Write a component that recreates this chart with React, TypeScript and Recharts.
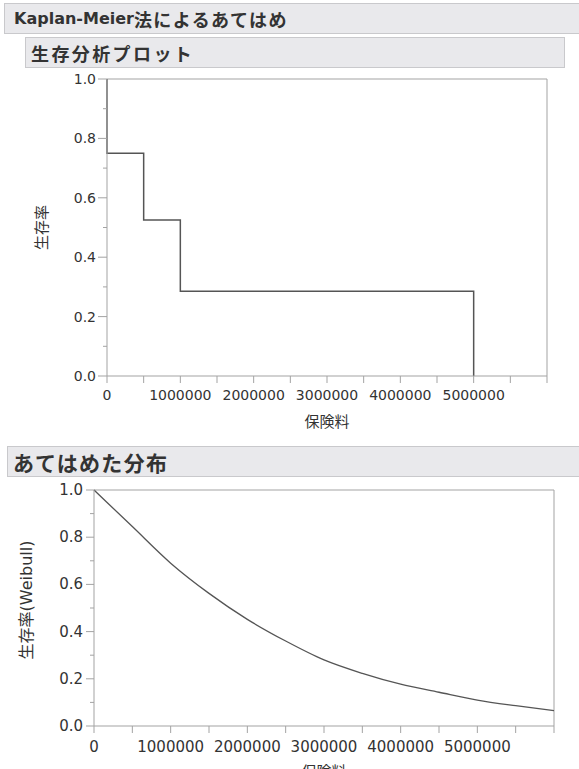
import { LineChart, Line, XAxis, YAxis, ReferenceLine, Label } from "recharts"

// Kaplan-Meier step estimate (premium -> survival); the double 0 gives the drop at t=0
const kmPremium = [0, 0, 500000, 1000000, 5000000]
const kmSurvival = [1.0, 0.75, 0.525, 0.285, 0]

// fitted Weibull survival curve
const weibullPremium = [
  0, 500000, 1000000, 1500000, 2000000, 2500000, 3000000,
  3500000, 4000000, 4500000, 5000000, 5500000, 6000000,
]
const weibullSurvival = [
  1.0, 0.845, 0.69, 0.562, 0.452, 0.36, 0.28,
  0.223, 0.177, 0.143, 0.11, 0.086, 0.065,
]

const premiumTicks = [
  0, 500000, 1000000, 1500000, 2000000, 2500000, 3000000,
  3500000, 4000000, 4500000, 5000000, 5500000, 6000000,
]
const premiumTickLabels = [
  "0", "", "1000000", "", "2000000", "", "3000000",
  "", "4000000", "", "5000000", "", "",
]
const survivalTicks = [0, 0.1, 0.2, 0.3, 0.4, 0.5, 0.6, 0.7, 0.8, 0.9, 1.0]
const survivalTickLabels = ["0.0", "", "0.2", "", "0.4", "", "0.6", "", "0.8", "", "1.0"]

const kmData = kmPremium.map((p, i) => ({ premium: p, survival: kmSurvival[i] }))
const weibullData = weibullPremium.map((p, i) => ({ premium: p, survival: weibullSurvival[i] }))

const FONT = "'DejaVu Sans', 'Noto Sans CJK JP', sans-serif"
const AXIS = "#a3a3a3"
const INK = "#333"
const CURVE = "#555"

const premiumLabel = (v: number) => premiumTickLabels[premiumTicks.indexOf(v)] ?? ""

function SurvivalTick(props: any) {
  const { x, y, payload, size, gap, fontSize } = props
  const i = survivalTicks.indexOf(payload.value)
  const text = survivalTickLabels[i] ?? ""
  const axisX = x + gap + size
  return (
    <g>
      <line x1={axisX - (text ? size : 4)} x2={axisX} y1={y} y2={y} stroke={AXIS} />
      {text && (
        <text x={x} y={y} textAnchor="end" dominantBaseline="central" fill={INK} fontSize={fontSize} fontFamily={FONT}>
          {text}
        </text>
      )}
    </g>
  )
}

const sideLabel = (text: string, cx: number, fontSize: number, shift = 0) => (props: any) => {
  const { x, y, height } = props.viewBox
  const px = x + cx
  const py = y + height / 2 + shift
  return (
    <text x={px} y={py} transform={`rotate(-90 ${px} ${py})`} textAnchor="middle" dominantBaseline="central" fill={INK} fontSize={fontSize} fontFamily={FONT}>
      {text}
    </text>
  )
}

const bottomLabel = (text: string, fontSize: number) => (props: any) => {
  const { x, y, width } = props.viewBox
  return (
    <text x={x + width / 2} y={y + 45.5} textAnchor="middle" dominantBaseline="central" fill={INK} fontSize={fontSize} fontFamily={FONT}>
      {text}
    </text>
  )
}

function Header({ left, top, width, pad, children }: any) {
  return (
    <div
      style={{
        position: "absolute",
        left,
        top,
        width,
        height: 31,
        boxSizing: "border-box",
        background: "#e9e9ec",
        border: "1px solid #c9c9cc",
        display: "flex",
        alignItems: "center",
        paddingLeft: pad,
        fontFamily: FONT,
        fontWeight: "bold",
        color: "#333",
        whiteSpace: "nowrap",
      }}
    >
      {children}
    </div>
  )
}

export default function App() {
  return (
    <div style={{ position: "absolute", left: 0, top: 0, width: 579, height: 769, overflow: "hidden", background: "#fff" }}>
      <div style={{ position: "absolute", left: 0, top: 0 }}>
        <LineChart width={579} height={430} data={kmData} margin={{ top: 79, right: 32, bottom: 0, left: 0 }}>
          <XAxis
            dataKey="premium"
            type="number"
            domain={[0, 6000000]}
            ticks={premiumTicks}
            interval={0}
            tickFormatter={premiumLabel}
            stroke={AXIS}
            tickSize={7}
            tickMargin={7}
            height={54}
            tick={{ fill: INK, fontSize: 14, fontFamily: FONT }}
          >
            <Label content={bottomLabel("保険料", 15)} />
          </XAxis>
          <YAxis
            type="number"
            domain={[0, 1]}
            ticks={survivalTicks}
            interval={0}
            stroke={AXIS}
            width={107}
            tickLine={false}
            tickSize={9}
            tickMargin={2}
            tick={<SurvivalTick size={9} gap={2} fontSize={14} />}
          >
            <Label content={sideLabel("生存率", 42, 15)} />
          </YAxis>
          <ReferenceLine y={1} stroke={AXIS} />
          <ReferenceLine x={6000000} stroke={AXIS} />
          <Line
            type="stepAfter"
            dataKey="survival"
            stroke={CURVE}
            strokeWidth={1.5}
            dot={false}
            activeDot={false}
            isAnimationActive={false}
          />
        </LineChart>
      </div>

      <div style={{ position: "absolute", left: 0, top: 440 }}>
        <LineChart width={579} height={340} data={weibullData} margin={{ top: 50, right: 25, bottom: 0, left: 0 }}>
          <XAxis
            dataKey="premium"
            type="number"
            domain={[0, 6000000]}
            ticks={premiumTicks}
            interval={0}
            tickFormatter={premiumLabel}
            stroke={AXIS}
            tickSize={7}
            tickMargin={8}
            height={54}
            tick={{ fill: INK, fontSize: 15, fontFamily: FONT }}
          >
            <Label content={bottomLabel("保険料", 15)} />
          </XAxis>
          <YAxis
            type="number"
            domain={[0, 1]}
            ticks={survivalTicks}
            interval={0}
            stroke={AXIS}
            width={94}
            tickLine={false}
            tickSize={8}
            tickMargin={3}
            tick={<SurvivalTick size={8} gap={3} fontSize={15} />}
          >
            <Label content={sideLabel("生存率(Weibull)", 26, 16, -8)} />
          </YAxis>
          <ReferenceLine y={1} stroke={AXIS} />
          <ReferenceLine x={6000000} stroke={AXIS} />
          <Line
            type="monotone"
            dataKey="survival"
            stroke={CURVE}
            strokeWidth={1.3}
            dot={false}
            activeDot={false}
            isAnimationActive={false}
          />
        </LineChart>
      </div>

      <Header left={4} top={3} width={576} pad={9}>
        <span style={{ fontSize: 16 }}>Kaplan-Meier</span>
        <span style={{ fontSize: 18, letterSpacing: 1.4 }}>法によるあてはめ</span>
      </Header>
      <Header left={25} top={37} width={540} pad={5}>
        <span style={{ fontSize: 18, letterSpacing: 2.4 }}>生存分析プロット</span>
      </Header>
      <Header left={7} top={446} width={573} pad={5}>
        <span style={{ fontSize: 21, letterSpacing: 1.3 }}>あてはめた分布</span>
      </Header>
    </div>
  )
}
